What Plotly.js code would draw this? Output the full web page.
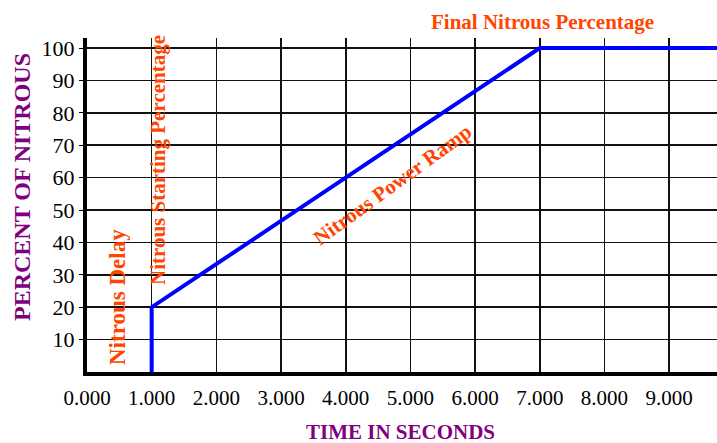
<!DOCTYPE html>
<html><head><meta charset="utf-8">
<script src="https://cdn.plot.ly/plotly-3.0.1.min.js"></script>
<style>html,body{margin:0;padding:0;background:#fff}#chart{width:717px;height:443px}</style>
</head><body><div id="chart"></div>
<script>
const timeSeconds = [1, 1, 7, 9.8];
const percentNitrous = [0, 20, 100, 100];
const yTickVals = [10, 20, 30, 40, 50, 60, 70, 80, 90, 100];
const xTickVals = [0, 1, 2, 3, 4, 5, 6, 7, 8, 9];
const labelTexts = ["Nitrous Delay", "Nitrous Starting Percentage", "Nitrous Power Ramp", "Final Nitrous Percentage"];
const axisTitles = ["TIME IN SECONDS", "PERCENT OF NITROUS"];

const orange = "#ff4500";
const purple = "#800080";
const serif = "Liberation Serif";

const trace = {
  x: timeSeconds, y: percentNitrous, mode: "lines", type: "scatter",
  line: {color: "#0000ff", width: 4}, hoverinfo: "skip", cliponaxis: false
};

function px2paperX(px) { return (px - 87) / (717 - 87); }
function px2paperY(py) { return (443 - py - 71) / (443 - 38 - 71); }

const layout = {
  width: 717, height: 443,
  margin: {l: 87, r: 0, t: 38, b: 71},
  paper_bgcolor: "#fff", plot_bgcolor: "#fff",
  showlegend: false,
  font: {family: serif, color: "#000", size: 18},
  xaxis: {
    range: [0, 9.74], tickvals: xTickVals, tickformat: ".3f",
    showgrid: true, gridcolor: "#111", gridwidth: 1.6,
    showline: true, linecolor: "#000", linewidth: 4,
    zeroline: false, ticks: "", ticklabelstandoff: 4,
    tickfont: {family: serif, size: 21, color: "#000"}
  },
  yaxis: {
    range: [0, 103.1], tickvals: yTickVals,
    showgrid: true, gridcolor: "#111", gridwidth: 1.6,
    showline: true, linecolor: "#000", linewidth: 4,
    zeroline: false, ticks: "outside", ticklen: 4, tickcolor: "#000", tickwidth: 1,
    tickfont: {family: serif, size: 22, color: "#000"}
  },
  annotations: [
    {text: labelTexts[0], x: px2paperX(117), y: px2paperY(297), xref: "paper", yref: "paper", textangle: -90,
     showarrow: false, xanchor: "center", yanchor: "middle",
     font: {family: serif, size: 23, color: orange, weight: "bold"}},
    {text: labelTexts[1], x: px2paperX(158), y: px2paperY(160), xref: "paper", yref: "paper", textangle: -90,
     showarrow: false, xanchor: "center", yanchor: "middle",
     font: {family: serif, size: 21, color: orange, weight: "bold"}},
    {text: labelTexts[2], x: px2paperX(392), y: px2paperY(185), xref: "paper", yref: "paper", textangle: -36,
     showarrow: false, xanchor: "center", yanchor: "middle",
     font: {family: serif, size: 21, color: orange, weight: "bold"}},
    {text: labelTexts[3], x: px2paperX(542), y: px2paperY(22), xref: "paper", yref: "paper",
     showarrow: false, xanchor: "center", yanchor: "middle",
     font: {family: serif, size: 21, color: orange, weight: "bold"}},
    {text: axisTitles[0], x: px2paperX(400), y: px2paperY(432), xref: "paper", yref: "paper",
     showarrow: false, xanchor: "center", yanchor: "middle",
     font: {family: serif, size: 21, color: purple, weight: "bold"}},
    {text: axisTitles[1], x: px2paperX(22), y: px2paperY(187), xref: "paper", yref: "paper", textangle: -90,
     showarrow: false, xanchor: "center", yanchor: "middle",
     font: {family: serif, size: 24, color: purple, weight: "bold"}}
  ]
};

Plotly.newPlot("chart", [trace], layout, {staticPlot: true, displayModeBar: false});
</script></body></html>
